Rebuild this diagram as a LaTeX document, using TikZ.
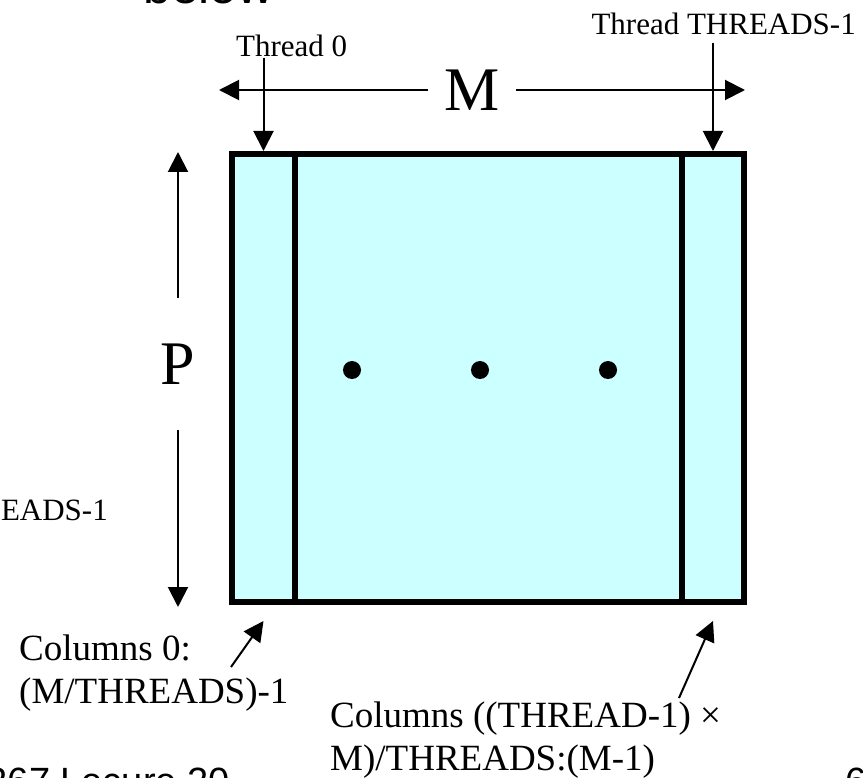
\documentclass[tikz,border=0pt]{standalone}
\usepackage{fontspec}
\setmainfont{Liberation Serif}
\newfontfamily\slidefont{Liberation Sans}
\usepackage{tikz}
\usetikzlibrary{arrows.meta,positioning}
\definecolor{colfill}{HTML}{CCFFFF}

\begin{document}
\begin{tikzpicture}[x=1pt,y=-1pt,
  lbl/.style={inner sep=0pt,font=\fontsize{31}{37}\selectfont},
  collbl/.style={inner sep=0pt,align=left,font=\fontsize{37}{43}\selectfont},
  dim/.style={inner sep=0pt,font=\fontsize{62}{62}\selectfont},
  slide/.style={inner sep=0pt,font=\slidefont\fontsize{#1}{#1}\selectfont},
  blk/.style={draw,line width=6pt,fill=colfill,inner sep=0pt,minimum height=448pt},
  dot/.style={circle,fill,inner sep=0pt,minimum size=18pt},
  arr/.style={-{Triangle[length=20pt,width=20pt]},line width=2pt}]
\clip (0,0) rectangle (863,778);
\node[slide=50, anchor=base west] (title) at (143,4) {below};
\node[slide=38, anchor=base east] (foot) at (230,794) {267 Lecure 20};
\node[slide=38, anchor=base west] (page) at (845,794) {6};
\node[blk, minimum width=512pt] (mat) at (488,378) {};
\node[blk, minimum width=63pt, anchor=north west] (col0) at (mat.north west) {};
\node[blk, minimum width=62pt, anchor=north east] (colN) at (mat.north east) {};
\foreach \x/\n in {352/1,480/2,608/3}
  \node[dot] (dot\n) at (\x,370) {};
\node[lbl, anchor=base west] (t0) at (236,57) {Thread 0};
\node[lbl, anchor=base east, inner ysep=7pt] (tN) at (856,35) {Thread THREADS-1};
\node[lbl, anchor=base east] (side) at (108,520) {EADS-1};
\node[dim, minimum width=87pt] (Mlbl) at (472,90) {M};
\node[dim, minimum height=132pt] (Plbl) at (178,364) {P};
\node[collbl, anchor=base west] (cl0) at (19,703) {Columns 0:\\(M/THREADS)-1};
\node[collbl, anchor=base west] (clN) at (330,770) {Columns ((THREAD-1) ×\\M)/THREADS:(M-1)};
\coordinate (mL) at (219,90);
\coordinate (mR) at (745,90);
\coordinate (pTop) at (178,152);
\coordinate (pBot) at (178,607);
\coordinate (c0tail) at (231,667);
\coordinate (cNtail) at (679,698);
\draw[arr] (Mlbl.west) -- (mL);
\draw[arr] (Mlbl.east) -- (mR);
\draw[arr] (Plbl.north) -- (pTop);
\draw[arr] (Plbl.south) -- (pBot);
\draw[arr] (t0.south -| col0.north) -- (col0.north);
\draw[arr] (tN.south -| colN.north) -- (colN.north);
\draw[arr] (c0tail) -- ([yshift=-16pt]col0.south);
\draw[arr] (cNtail) -- ([yshift=-16pt]colN.south);
\end{tikzpicture}
\end{document}
